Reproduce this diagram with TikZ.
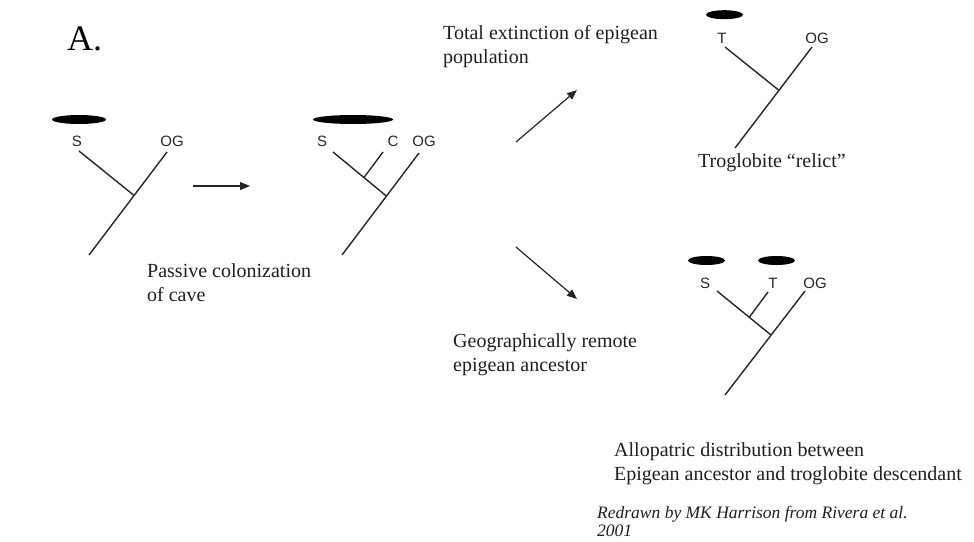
\documentclass[tikz,border=0pt]{standalone}
\usepackage{fontspec}
\setmainfont{Liberation Serif}
\newfontfamily\labfont{Liberation Sans}
\usetikzlibrary{arrows.meta,shapes.geometric}
\begin{document}
\begin{tikzpicture}[x=1pt,y=-1pt,
  branch/.style={line width=1.4pt, draw=black!85},
  taxon/.style={font=\labfont\fontsize{15}{15}\selectfont, inner sep=0pt, text=black!85},
  blob/.style={ellipse, fill=black, draw=none, inner sep=0pt, minimum height=9pt},
  caption/.style={font=\fontsize{20}{24}\selectfont, align=left, anchor=base west, inner sep=0pt, text=black!88},
  note/.style={font=\itshape\fontsize{17.5}{17.5}\selectfont, align=left, anchor=base west, inner sep=0pt, text=black!88},
  steparrow/.style={-{Triangle[length=10pt,width=8pt]}, line width=1.2pt, draw=black!85}]
\useasboundingbox (0,0) rectangle (974,541);

% panel label
\node[font=\fontsize{36}{36}\selectfont, anchor=base west, inner sep=0pt] (panel) at (67,50) {A.};

% ---- tree 1
\node[blob, minimum width=54pt] (e1) at (79,119.5) {};
\node[taxon] (s1) at (77,141) {S};
\node[taxon] (og1) at (172,141) {OG};
\coordinate (s1a) at (79,151);
\coordinate (j1) at (133.5,195);
\coordinate (o1a) at (167,152);
\coordinate (r1) at (89,255);
\draw[branch] (s1a) -- (j1);
\draw[branch] (o1a) -- (r1);

% arrow 1
\coordinate (a1s) at (193,186);
\coordinate (a1e) at (250,186);
\draw[steparrow] (a1s) -- (a1e);

\node[caption] (t1) at (147,301) {Passive colonization\\of cave};

% ---- tree 2
\node[blob, minimum width=80pt] (e2) at (353,119.5) {};
\node[taxon] (s2) at (322,141) {S};
\node[taxon] (c2) at (393,141) {C};
\node[taxon] (og2) at (424,141) {OG};
\coordinate (s2a) at (333,152);
\coordinate (j2) at (386.3,196);
\coordinate (c2a) at (383,152);
\coordinate (c2j) at (364,177.5);
\coordinate (o2a) at (419,153);
\coordinate (r2) at (342,255);
\draw[branch] (s2a) -- (j2);
\draw[branch] (c2a) -- (c2j);
\draw[branch] (o2a) -- (r2);

% arrows 2, 3
\coordinate (a2s) at (516,142);
\coordinate (a2e) at (577,90);
\draw[steparrow] (a2s) -- (a2e);
\coordinate (a3s) at (516,247);
\coordinate (a3e) at (577,299);
\draw[steparrow] (a3s) -- (a3e);

\node[caption] (t2) at (443,63) {Total extinction of epigean\\population};
\node[caption] (t3) at (453,371) {Geographically remote\\epigean ancestor};

% ---- tree 3
\node[blob, minimum width=37pt] (e3) at (724.5,14.7) {};
\node[taxon] (tt3) at (722,38) {T};
\node[taxon] (og3) at (817,38) {OG};
\coordinate (t3a) at (725,47);
\coordinate (j3) at (778.5,90);
\coordinate (o3a) at (812,47);
\coordinate (r3) at (735,148);
\draw[branch] (t3a) -- (j3);
\draw[branch] (o3a) -- (r3);
\node[caption] (t4) at (698,167) {Troglobite “relict”};

% ---- tree 4
\node[blob, minimum width=37pt] (e4a) at (706.5,260.5) {};
\node[blob, minimum width=37pt] (e4b) at (776.5,260.5) {};
\node[taxon] (s4) at (705,283) {S};
\node[taxon] (tt4) at (773,283) {T};
\node[taxon] (og4) at (815,283) {OG};
\coordinate (s4a) at (717,291);
\coordinate (j4) at (771,335);
\coordinate (t4a) at (768,292);
\coordinate (t4j) at (749.5,317);
\coordinate (o4a) at (805,291);
\coordinate (r4) at (725,395);
\draw[branch] (s4a) -- (j4);
\draw[branch] (t4a) -- (t4j);
\draw[branch] (o4a) -- (r4);

\node[caption] (t5) at (614,480) {Allopatric distribution between\\Epigean ancestor and troglobite descendant};

\node[note] (credit) at (597,536) {Redrawn by MK Harrison from Rivera et al.\\2001};
\end{tikzpicture}
\end{document}
